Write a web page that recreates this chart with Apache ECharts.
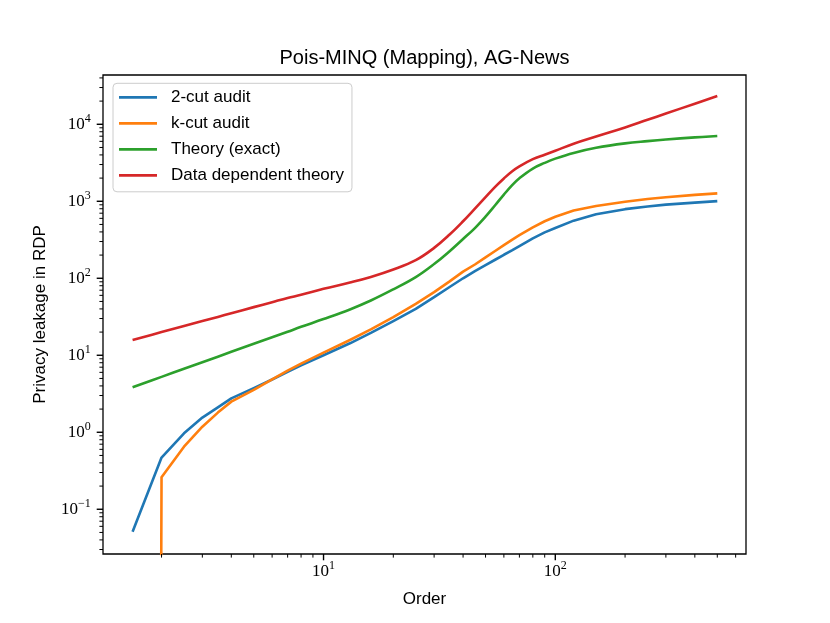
<!DOCTYPE html>
<html>
<head>
<meta charset="utf-8">
<script src="https://cdn.jsdelivr.net/npm/echarts@6/dist/echarts.min.js"></script>
<style>
html,body{margin:0;padding:0;background:#fff;}
#chart{width:830px;height:623px;}
</style>
</head>
<body>
<div id="chart"></div>
<script>
// ---- data ----
const orders = [1.5, 2, 2.5, 3, 3.5, 4, 5, 6, 7, 8, 10, 13, 16, 20, 25, 30, 35, 40, 45, 50, 55, 60, 65, 70, 80, 90, 100, 120, 150, 200, 250, 300, 400, 500];
const twoCutAudit = [0.051, 0.47, 0.97, 1.55, 2.1, 2.75, 3.75, 4.85, 6.1, 7.4, 10.0, 14.3, 19.5, 27.8, 40, 57, 77, 100, 124, 148, 174, 202, 230, 262, 330, 395, 450, 560, 680, 790, 855, 905, 960, 1005];
const kCutAudit = [0, 0.26, 0.65, 1.18, 1.8, 2.5, 3.55, 4.85, 6.3, 7.8, 10.8, 15.8, 21.7, 31.3, 46.5, 66, 91, 122, 151, 187, 226, 269, 316, 363, 457, 550, 630, 760, 870, 985, 1070, 1130, 1210, 1265];
const theoryExact = [3.84, 5.24, 6.67, 8.11, 9.57, 11.1, 14.1, 17.1, 20.2, 23.4, 29.5, 39.4, 51.4, 71.8, 103.5, 153, 225, 324, 449, 631, 887, 1220, 1610, 1990, 2660, 3150, 3580, 4250, 4950, 5650, 6050, 6350, 6750, 7050];
const dataDependentTheory = [15.8, 20.0, 24.0, 27.8, 31.5, 35.2, 42.2, 48.9, 55.4, 61, 73, 88, 104, 130, 172, 248, 370, 550, 802, 1130, 1540, 1980, 2440, 2840, 3520, 4030, 4540, 5580, 6920, 9080, 11430, 13770, 18530, 23300];
const seriesNames = ['2-cut audit', 'k-cut audit', 'Theory (exact)', 'Data dependent theory'];

const xRange = [1.118, 665];
const yRange = [0.02624, 43650];
const xMajorTicks = [10, 100];
const xMinorTicks = [2, 3, 4, 5, 6, 7, 8, 9, 20, 30, 40, 50, 60, 70, 80, 90, 200, 300, 400, 500, 600];
const yMajorTicks = [0.1, 1, 10, 100, 1000, 10000];
const yMinorTicks = [0.03, 0.04, 0.05, 0.06, 0.07, 0.08, 0.09,
  0.2, 0.3, 0.4, 0.5, 0.6, 0.7, 0.8, 0.9,
  2, 3, 4, 5, 6, 7, 8, 9,
  20, 30, 40, 50, 60, 70, 80, 90,
  200, 300, 400, 500, 600, 700, 800, 900,
  2000, 3000, 4000, 5000, 6000, 7000, 8000, 9000,
  20000, 30000, 40000];

// ---- styling ----
const COLORS = ['#1f77b4', '#ff7f0e', '#2ca02c', '#d62728'];
const SMOOTH = [false, false, 0.4, 0.4];
const SANS = 'Liberation Sans, Arial, sans-serif';
const SERIF = 'Liberation Serif, Times New Roman, serif';

// matplotlib clips non-positive values on a log axis to a tiny positive number
function clipLog(v) { return v > 0 ? v : 1e-100; }
function pairs(ys) { return orders.map((x, i) => [x, clipLog(ys[i])]); }

function isMajor(v, list) {
  return list.some(m => Math.abs(Math.log10(v) - Math.log10(m)) < 1e-6);
}
function powLabel(list) {
  return function (v) {
    if (!(v > 0) || !isMajor(v, list)) return '';
    const e = Math.round(Math.log10(v));
    const exp = e < 0 ? '\u2212' + (-e) : String(e);
    return '{b|10}{s|' + exp + '}';
  };
}
const richLabel = {
  b: { fontFamily: SERIF, fontSize: 17, color: '#000', lineHeight: 17, verticalAlign: 'middle' },
  s: { fontFamily: SERIF, fontSize: 12, color: '#000', lineHeight: 12, padding: [0, 0, 11, 0], verticalAlign: 'middle' }
};

function xTickSeries() {
  const data = xMajorTicks.map(v => [v, 2]).concat(xMinorTicks.map(v => [v, 1]));
  return {
    type: 'custom', silent: true, z: 6, clip: false, data: data,
    renderItem: function (params, api) {
      const cs = params.coordSys;
      const major = api.value(1) === 2;
      const px = api.coord([api.value(0), 1])[0];
      const y0 = cs.y + cs.height;
      return { type: 'line', shape: { x1: px, y1: y0, x2: px, y2: y0 + (major ? 6.3 : 3.6) },
        style: { stroke: '#000', lineWidth: major ? 1.4 : 1.0 } };
    }
  };
}
function yTickSeries() {
  const data = yMajorTicks.map(v => [2, v]).concat(yMinorTicks.map(v => [1, v]));
  return {
    type: 'custom', silent: true, z: 6, clip: false, data: data,
    renderItem: function (params, api) {
      const cs = params.coordSys;
      const major = api.value(0) === 2;
      const py = api.coord([10, api.value(1)])[1];
      const x0 = cs.x;
      return { type: 'line', shape: { x1: x0, y1: py, x2: x0 - (major ? 6.3 : 3.6), y2: py },
        style: { stroke: '#000', lineWidth: major ? 1.4 : 1.0 } };
    }
  };
}

const allValues = [twoCutAudit, kCutAudit, theoryExact, dataDependentTheory];
const lineSeries = allValues.map((vals, i) => ({
  name: seriesNames[i],
  type: 'line',
  data: pairs(vals),
  showSymbol: false,
  symbol: 'none',
  clip: true,
  smooth: SMOOTH[i],
  z: 3,
  lineStyle: { color: COLORS[i], width: 2.6, cap: 'butt', join: 'round' },
  itemStyle: { color: COLORS[i] }
}));

const chart = echarts.init(document.getElementById('chart'), null, { renderer: 'canvas' });
chart.setOption({
  animation: false,
  backgroundColor: '#fff',
  title: {
    text: 'Pois-MINQ (Mapping), AG-News',
    left: 424.5, top: 48, padding: 0, textAlign: 'center',
    textStyle: { fontFamily: SANS, fontSize: 20, fontWeight: 'normal', color: '#000' }
  },
  grid: {
    left: 103, top: 75, width: 643, height: 479,
    show: true, borderColor: '#000', borderWidth: 1.3, backgroundColor: 'transparent'
  },
  legend: {
    data: seriesNames,
    orient: 'vertical',
    left: 113, top: 83.3,
    padding: [5.5, 8, 8, 6],
    itemGap: 9,
    itemWidth: 38, itemHeight: 2.7,
    icon: 'rect',
    backgroundColor: 'rgba(255,255,255,0.8)',
    borderColor: '#cccccc', borderWidth: 1, borderRadius: 4,
    selectedMode: false,
    textStyle: { fontFamily: SANS, fontSize: 17, color: '#000', lineHeight: 17, padding: [0, 0, 0, 9] }
  },
  xAxis: {
    type: 'log', logBase: 10, min: xRange[0], max: xRange[1],
    axisLine: { show: false }, axisTick: { show: false }, splitLine: { show: false }, minorTick: { show: false },
    axisLabel: { formatter: powLabel(xMajorTicks), margin: 8.8, rich: richLabel, showMinLabel: true, showMaxLabel: true },
    name: 'Order', nameLocation: 'middle', nameGap: 36.5,
    nameTextStyle: { fontFamily: SANS, fontSize: 17, color: '#000' }
  },
  yAxis: {
    type: 'log', logBase: 10, min: yRange[0], max: yRange[1],
    axisLine: { show: false }, axisTick: { show: false }, splitLine: { show: false }, minorTick: { show: false },
    axisLabel: { formatter: powLabel(yMajorTicks), margin: 12.3, rich: richLabel, showMinLabel: true, showMaxLabel: true },
    name: 'Privacy leakage in RDP', nameLocation: 'middle', nameGap: 54,
    nameTextStyle: { fontFamily: SANS, fontSize: 17, color: '#000' }
  },
  series: lineSeries.concat([xTickSeries(), yTickSeries()])
});
</script>
</body>
</html>
